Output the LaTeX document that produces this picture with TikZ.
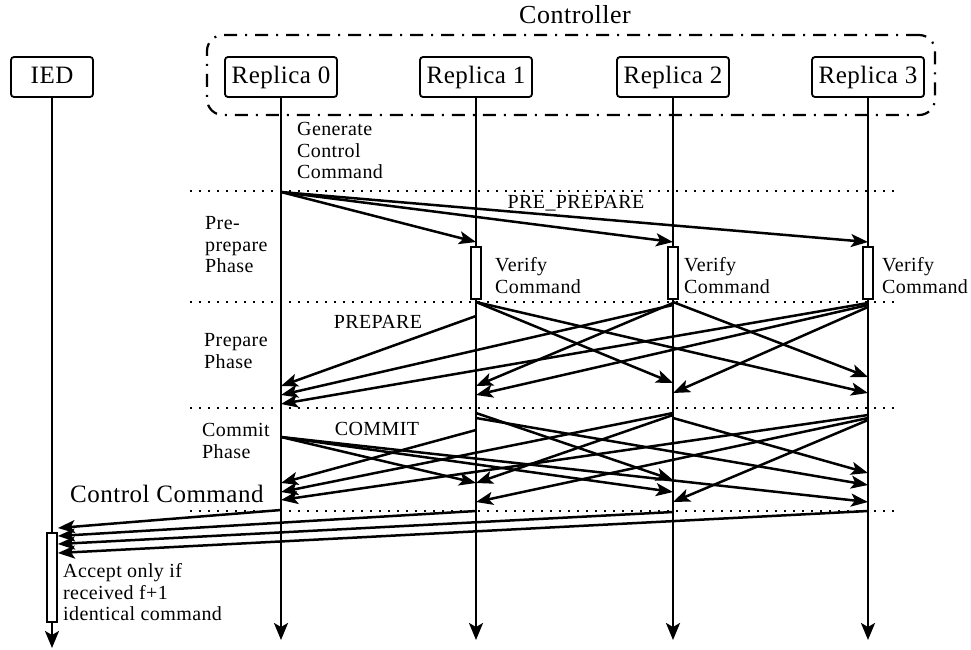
\documentclass[tikz,border=0pt]{standalone}
\usepackage{fontspec}
\setmainfont{Liberation Serif}[LetterSpace=2]
\usetikzlibrary{arrows.meta}

\tikzset{
  actor/.style={draw, rounded corners=3pt, line width=1.8pt, minimum width=112pt, minimum height=40pt,
                text height=17pt, text depth=5pt, inner sep=0pt, font=\fontsize{25}{27}\selectfont},
  ctrlbox/.style={draw, rounded corners=16pt, line width=2.2pt, dash pattern=on 13pt off 8pt on 2pt off 8pt,
                  minimum width=728pt, minimum height=80pt},
  lifeline/.style={line width=2.5pt, -{Stealth[length=17pt,width=14pt,inset=4pt]}},
  msg/.style={line width=2.5pt, -{Stealth[length=17pt,width=13pt,inset=4pt]}},
  phaseline/.style={line width=2.5pt, dash pattern=on 2pt off 7pt},
  busy/.style={draw, fill=white, line width=1.8pt, minimum width=10pt, inner sep=0pt},
  note/.style={align=left, anchor=north west, inner sep=0pt, font=\fontsize{20}{21.5}\selectfont},
  tag/.style={anchor=base, inner sep=0pt, font=\fontsize{20}{21.5}\selectfont},
}

\begin{document}
\begin{tikzpicture}[x=1pt, y=-1pt]
\useasboundingbox (0,0) rectangle (971,649);

\node[ctrlbox] (ctrl) at (571,75) {};
\node[tag, font=\fontsize{26}{28}\selectfont] (ctrllabel) at (575,23) {Controller};

% lifelines
\node[actor, minimum width=82pt] (ied) at (52,77) {IED};
\foreach \i/\x in {0/281,1/476,2/673,3/868}{
  \node[actor] (r\i) at (\x,77) {Replica \i};
  \coordinate (e\i) at (\x,640);
  \draw[lifeline] (r\i) -- (e\i);
}
\coordinate (eied) at (52,648);
\draw[lifeline] (ied) -- (eied);

\foreach \y in {191,302,408,511}
  \draw[phaseline] (190,\y) -- (897,\y);

\foreach \i in {1,2,3}
  \node[busy, minimum height=52pt] (v\i) at (r\i |- 0,273) {};
\node[busy, minimum height=89pt] (acc) at (52,577.5) {};

% pre-prepare, prepare, commit
\foreach \a/\ya/\b/\yb in {r0/192/r1/242, r0/192/r2/242, r0/192/r3/242,
    r1/316/r0/386, r1/302/r2/383, r1/302/r3/393,
    r2/305/r0/395, r2/303/r1/386, r2/302/r3/377,
    r3/303/r0/404, r3/305/r1/395, r3/307/r2/393,
    r0/437/r1/483, r0/437/r2/492, r0/437/r3/502,
    r1/430/r0/483, r1/413/r2/480, r1/418/r3/485,
    r2/413/r0/492, r2/415/r1/483, r2/418/r3/473,
    r3/415/r0/500, r3/418/r1/502, r3/420/r2/502}
  \draw[msg] (\a |- 0,\ya) -- (\b |- 0,\yb);

% replies to the IED
\foreach \a/\ya/\yb in {r0/510/528, r1/511/536, r2/512/544, r3/511/553}
  \draw[msg] (\a |- 0,\ya) -- (acc.east |- 0,\yb);

\node[note] (gen) at (297,122.5) {Generate\\Control\\Command};
\node[note] (pp) at (205,216.5) {Pre-\\prepare\\Phase};
\node[note] (pr) at (204,333.5) {Prepare\\Phase};
\node[note] (cm) at (202,423.5) {Commit\\Phase};
\foreach \i/\x in {1/495,2/684,3/882}
  \node[note] (vt\i) at (\x,257.5) {Verify\\Command};
\node[note] (acct) at (63,563.5) {Accept only if\\received f+1\\identical command};
\node[tag] (ppmsg) at (576,208) {PRE\_PREPARE};
\node[tag] (prmsg) at (378,328) {PREPARE};
\node[tag] (cmmsg) at (377,435) {COMMIT};
\node[tag, anchor=base west, font=\fontsize{25}{27}\selectfont] (cc) at (70,502) {Control Command};
\end{tikzpicture}
\end{document}
